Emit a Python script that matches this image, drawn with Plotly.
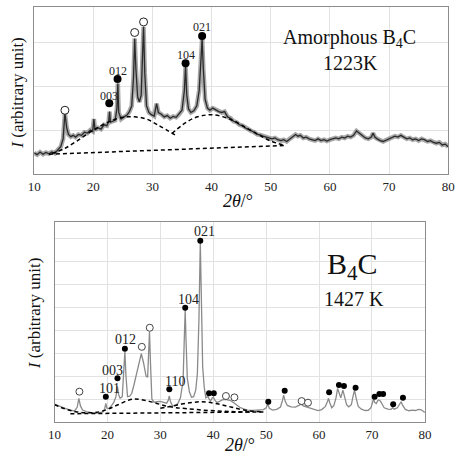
import plotly.graph_objects as go

# ---------------- Top panel: amorphous B4C, 1223 K ----------------
two_theta_a = [10.0, 10.5, 11.0, 11.5, 12.0, 12.5, 13.0, 13.5, 14.0, 14.5, 14.9, 15.2, 15.5, 15.8,
               16.2, 16.6, 17.0, 17.5, 18.0, 18.5, 19.0, 19.5, 19.9, 20.1, 20.3, 20.8, 21.3, 21.8,
               22.3, 22.6, 22.75, 22.9, 23.3, 23.7, 24.0, 24.15, 24.3, 24.7, 25.2, 25.7, 26.1, 26.5,
               26.8, 27.0, 27.2, 27.5, 27.8, 28.1, 28.35, 28.5, 28.7, 29.0, 29.4, 29.8, 30.3, 30.7,
               31.0, 31.5, 32.0, 32.5, 33.0, 33.5, 34.0, 34.5, 35.0, 35.4, 35.6, 35.8, 36.1, 36.5,
               37.0, 37.5, 37.9, 38.2, 38.4, 38.6, 38.9, 39.3, 39.7, 40.2, 40.7, 41.2, 41.7, 42.2,
               42.7, 43.2, 43.7, 44.2, 44.7, 45.2, 45.7, 46.2, 46.7, 47.2, 47.7, 48.2, 48.7, 49.2,
               49.7, 50.2, 50.7, 51.2, 51.7, 52.2, 52.7, 53.2, 53.7, 54.2, 54.6, 55.0, 55.5, 56.0,
               56.5, 57.0, 57.5, 58.0, 58.5, 59.0, 59.5, 60.0, 60.5, 61.0, 61.5, 62.0, 62.5, 63.0,
               63.5, 64.0, 64.5, 65.0, 65.5, 66.0, 66.5, 67.0, 67.3, 67.6, 68.0, 68.5, 69.0, 69.5,
               70.0, 70.5, 71.0, 71.5, 72.0, 72.5, 73.0, 73.5, 74.0, 74.5, 75.0, 75.5, 76.0, 76.5,
               77.0, 77.5, 78.0, 78.5, 79.0, 79.5, 80.0]
intensity_a = [0.48, 0.44, 0.50, 0.45, 0.49, 0.46, 0.50, 0.47, 0.55, 0.62, 0.80, 1.39, 1.05, 0.90,
               0.85, 0.88, 0.84, 0.90, 0.88, 0.95, 0.93, 1.00, 0.97, 1.25, 1.00, 1.05, 1.02, 1.12,
               1.10, 1.20, 1.42, 1.18, 1.20, 1.22, 1.50, 2.06, 1.40, 1.25, 1.30, 1.34, 1.42, 1.55,
               2.20, 3.08, 2.40, 1.75, 1.64, 1.80, 2.80, 3.35, 2.30, 1.55, 1.40, 1.35, 1.32, 1.60,
               1.40, 1.36, 1.30, 1.33, 1.27, 1.31, 1.29, 1.36, 1.45, 1.90, 2.46, 1.80, 1.48, 1.40,
               1.44, 1.55, 1.90, 2.60, 3.08, 2.40, 1.70, 1.50, 1.45, 1.50, 1.46, 1.42, 1.40, 1.42,
               1.30, 1.27, 1.20, 1.18, 1.12, 1.10, 1.05, 1.02, 0.98, 0.95, 0.90, 0.89, 0.86, 0.84,
               0.82, 0.80, 0.82, 0.78, 0.76, 0.78, 0.74, 0.80, 0.84, 0.90, 0.86, 0.88, 0.82, 0.84,
               0.80, 0.78, 0.76, 0.80, 0.76, 0.78, 0.75, 0.78, 0.80, 0.82, 0.80, 0.84, 0.82, 0.86,
               0.84, 0.88, 0.98, 0.92, 0.88, 0.82, 0.80, 0.84, 0.93, 0.84, 0.80, 0.76, 0.74, 0.77,
               0.80, 0.82, 0.86, 0.84, 0.88, 0.84, 0.80, 0.82, 0.78, 0.80, 0.76, 0.80, 0.78, 0.74,
               0.76, 0.72, 0.70, 0.72, 0.66, 0.68, 0.62]

base_a_x = [12.5, 52.5]
base_a_y = [0.45, 0.65]
hump1_a_x = [13.0, 15.0, 17.0, 20.0, 23.0, 25.0, 27.0, 29.0, 31.0, 33.8]
hump1_a_y = [0.47, 0.57, 0.73, 1.00, 1.21, 1.29, 1.30, 1.25, 1.11, 0.89]
hump2_a_x = [33.3, 35.0, 37.0, 39.0, 40.0, 42.0, 44.0, 46.0, 48.0, 50.0, 52.5]
hump2_a_y = [0.92, 1.11, 1.27, 1.34, 1.35, 1.30, 1.19, 1.04, 0.89, 0.75, 0.65]

b4c_a_x = [22.7, 24.1, 35.6, 38.4]
b4c_a_y = [1.61, 2.16, 2.52, 3.14]
other_a_x = [15.2, 27.0, 28.5]
other_a_y = [1.45, 3.22, 3.46]
hkl_a = ["003", "012", "104", "021"]
hkl_a_x = [22.6, 24.1, 35.6, 38.4]
hkl_a_y = [1.78, 2.35, 2.70, 3.35]

# ---------------- Bottom panel: B4C, 1427 K ----------------
two_theta_b = [10.0, 11.0, 12.0, 13.0, 13.8, 14.3, 14.6, 14.9, 15.3, 16.0, 17.0, 17.5, 18.5, 19.2,
               19.5, 19.7, 19.9, 20.3, 20.8, 21.2, 21.6, 21.9, 22.1, 22.4, 22.8, 23.1, 23.3, 23.5,
               23.8, 24.2, 24.6, 25.0, 25.5, 26.0, 26.4, 26.8, 27.3, 27.6, 27.8, 27.95, 28.15, 28.4,
               28.8, 29.3, 29.8, 30.3, 30.8, 31.2, 31.5, 31.7, 31.9, 32.3, 32.8, 33.3, 33.8, 34.3,
               34.55, 34.7, 34.85, 35.1, 35.5, 35.9, 36.3, 36.7, 37.0, 37.3, 37.55, 37.75, 38.0, 38.3,
               38.6, 38.9, 39.0, 39.2, 39.5, 39.8, 40.0, 40.3, 40.7, 41.2, 41.7, 42.3, 42.8, 43.3,
               43.8, 44.3, 45.0, 45.7, 46.5, 47.5, 48.5, 49.5, 50.0, 50.3, 50.6, 51.2, 52.0, 52.7,
               53.1, 53.3, 53.6, 54.0, 54.7, 55.5, 56.2, 56.6, 57.0, 57.6, 58.2, 59.0, 59.8, 60.5,
               61.2, 61.6, 61.8, 62.0, 62.4, 62.8, 63.2, 63.5, 63.8, 64.1, 64.5, 64.8, 65.2, 65.6,
               66.1, 66.4, 66.7, 67.0, 67.4, 68.0, 68.7, 69.3, 69.8, 70.1, 70.3, 70.5, 70.8, 71.1,
               71.3, 71.6, 71.9, 72.3, 73.0, 73.6, 73.9, 74.2, 74.8, 75.2, 75.5, 75.8, 76.3, 77.0,
               77.6, 78.2, 78.8, 79.3, 79.8, 80.0]
intensity_b = [0.78, 0.68, 0.59, 0.52, 0.48, 0.65, 1.03, 0.70, 0.52, 0.45, 0.40, 0.38, 0.40, 0.45,
               0.60, 0.81, 0.60, 0.59, 0.72, 0.85, 1.10, 1.54, 1.20, 1.03, 1.10, 2.20, 3.06, 2.00,
               1.10, 1.12, 1.25, 1.60, 2.12, 2.70, 2.97, 2.60, 2.00, 1.95, 3.00, 3.93, 2.50, 1.00,
               0.86, 0.88, 0.90, 0.88, 0.84, 0.82, 0.95, 1.13, 0.90, 0.70, 0.72, 0.80, 1.05, 1.80,
               3.80, 4.87, 3.60, 1.90, 1.30, 1.08, 1.10, 1.40, 2.12, 4.50, 7.84, 5.00, 2.40, 1.50,
               1.05, 1.10, 1.12, 1.00, 0.92, 1.05, 1.08, 0.95, 0.85, 0.90, 0.96, 0.98, 0.97, 0.93,
               0.85, 0.75, 0.64, 0.57, 0.52, 0.51, 0.52, 0.54, 0.62, 0.78, 0.60, 0.52, 0.55, 0.65,
               0.95, 1.17, 0.90, 0.72, 0.66, 0.65, 0.72, 0.78, 0.70, 0.66, 0.60, 0.54, 0.50, 0.54,
               0.68, 0.90, 1.03, 0.85, 0.62, 0.72, 1.05, 1.46, 1.20, 1.05, 1.39, 1.10, 0.75, 0.66,
               0.75, 1.10, 1.39, 1.05, 0.68, 0.56, 0.50, 0.51, 0.62, 0.85, 1.03, 0.85, 0.80, 0.94,
               0.96, 0.91, 0.80, 0.62, 0.56, 0.55, 0.62, 0.56, 0.62, 0.78, 0.88, 0.72, 0.55, 0.49,
               0.52, 0.50, 0.55, 0.53, 0.45, 0.41]

base_b_x = [13.0, 50.0]
base_b_y = [0.36, 0.44]
hump1_b_x = [10.0, 12.0, 14.0, 16.0, 18.0, 20.0, 22.0, 24.0, 25.2, 27.0, 29.0, 31.0, 33.0, 35.0, 38.0, 41.0, 44.0, 47.0]
hump1_b_y = [0.75, 0.57, 0.45, 0.40, 0.42, 0.55, 0.75, 0.95, 1.00, 0.95, 0.83, 0.70, 0.62, 0.58, 0.52, 0.48, 0.45, 0.43]
hump2_b_x = [30.0, 32.0, 34.0, 36.0, 37.5, 39.0, 41.0, 43.0, 45.0, 47.0, 49.0]
hump2_b_y = [0.60, 0.68, 0.78, 0.85, 0.88, 0.86, 0.78, 0.67, 0.56, 0.48, 0.45]

b4c_b_x = [19.7, 21.9, 23.3, 31.7, 34.7, 37.55, 39.2, 40.1, 50.4, 53.5, 61.9, 63.75, 64.7, 66.9,
           70.5, 71.4, 72.1, 74.0, 75.85]
b4c_b_y = [1.10, 1.90, 3.19, 1.43, 4.97, 7.88, 1.25, 1.25, 0.88, 1.36, 1.29, 1.61, 1.57, 1.49,
           1.10, 1.22, 1.22, 0.77, 1.06]
other_b_x = [14.7, 26.5, 28.0, 42.4, 44.0, 56.7, 57.9]
other_b_y = [1.32, 3.27, 4.10, 1.13, 1.07, 0.91, 0.84]
hkl_b = ["101", "003", "012", "110", "104", "021"]
hkl_b_x = [20.3, 20.9, 23.4, 32.8, 35.35, 38.4]
hkl_b_y = [1.46, 2.26, 3.59, 1.78, 5.33, 8.28]

SERIF = "Liberation Serif"
W, H = 461, 456

fig = go.Figure()

# top panel
fig.add_trace(go.Scatter(x=two_theta_a, y=intensity_a, mode="lines",
                         line=dict(color="rgba(110,110,110,0.6)", width=4.5), xaxis="x", yaxis="y"))
fig.add_trace(go.Scatter(x=two_theta_a, y=intensity_a, mode="lines",
                         line=dict(color="#2a2a2a", width=1.3), xaxis="x", yaxis="y"))
for xs, ys in [(base_a_x, base_a_y), (hump1_a_x, hump1_a_y), (hump2_a_x, hump2_a_y)]:
    fig.add_trace(go.Scatter(x=xs, y=ys, mode="lines", line=dict(color="black", width=1.5, dash="4px,3px", shape="spline"),
                             xaxis="x", yaxis="y"))
fig.add_trace(go.Scatter(x=b4c_a_x, y=b4c_a_y, mode="markers",
                         marker=dict(color="black", size=8), xaxis="x", yaxis="y"))
fig.add_trace(go.Scatter(x=other_a_x, y=other_a_y, mode="markers",
                         marker=dict(color="white", size=8, line=dict(color="#222", width=1)), xaxis="x", yaxis="y"))

# bottom panel
fig.add_trace(go.Scatter(x=two_theta_b, y=intensity_b, mode="lines",
                         line=dict(color="#8a8a8a", width=1.3), xaxis="x2", yaxis="y2"))
for xs, ys in [(base_b_x, base_b_y), (hump1_b_x, hump1_b_y), (hump2_b_x, hump2_b_y)]:
    fig.add_trace(go.Scatter(x=xs, y=ys, mode="lines", line=dict(color="black", width=1.5, dash="4px,3px", shape="spline"),
                             xaxis="x2", yaxis="y2"))
fig.add_trace(go.Scatter(x=b4c_b_x, y=b4c_b_y, mode="markers",
                         marker=dict(color="black", size=6), xaxis="x2", yaxis="y2"))
fig.add_trace(go.Scatter(x=other_b_x, y=other_b_y, mode="markers",
                         marker=dict(color="white", size=7, line=dict(color="#444", width=1)), xaxis="x2", yaxis="y2"))

annotations = []
for t, x, y in zip(hkl_a, hkl_a_x, hkl_a_y):
    annotations.append(dict(text=t, x=x, y=y, xref="x", yref="y", showarrow=False,
                            xanchor="center", yanchor="middle",
                            font=dict(family=SERIF, size=12, color="#222")))
for t, x, y in zip(hkl_b, hkl_b_x, hkl_b_y):
    annotations.append(dict(text=t, x=x, y=y, xref="x2", yref="y2", showarrow=False,
                            xanchor="center", yanchor="middle",
                            font=dict(family=SERIF, size=14, color="#222")))

def px(x):
    return x / W

def py(y):
    return 1 - y / H

def label(text, x, y, size, angle=0):
    return dict(text=text, x=px(x), y=py(y), xref="paper", yref="paper", showarrow=False,
                xanchor="center", yanchor="middle", textangle=angle,
                font=dict(family=SERIF, size=size, color="#111"))

annotations += [
    label("Amorphous B<sub>4</sub>C", 353, 38, 20),
    label("1223K", 354, 63, 20),
    label("B<sub>4</sub>C", 356, 266, 30),
    label("1427 K", 358, 299, 20),
    label("<i>I</i> (arbitrary unit)", 10, 93, 17, -90),
    label("<i>I</i> (arbitrary unit)", 28, 314, 17, -90),
    label("<i>2θ</i>/°", 238, 201, 18),
    label("<i>2θ</i>/°", 240, 445, 18),
]

axis_common = dict(showgrid=True, gridcolor="#e2e2e2", gridwidth=1, showline=True, linecolor="#8c8c8c",
                   linewidth=1, mirror=True, ticks="", zeroline=False)

fig.update_layout(
    width=W, height=H, margin=dict(l=0, r=0, t=0, b=0),
    paper_bgcolor="white", plot_bgcolor="white", showlegend=False,
    font=dict(family=SERIF, color="#222"),
    xaxis=dict(domain=[px(28), px(455)], range=[10, 80], dtick=10, anchor="y",
               tickfont=dict(family=SERIF, size=13, color="#222"), **axis_common),
    yaxis=dict(domain=[py(174), py(7)], range=[0, 3.8], dtick=1, anchor="x",
               showticklabels=False, **axis_common),
    xaxis2=dict(domain=[px(49), px(431)], range=[10, 80], dtick=10, anchor="y2",
                tickfont=dict(family=SERIF, size=13, color="#222"), **axis_common),
    yaxis2=dict(domain=[py(422), py(222)], range=[0, 8.7], dtick=1, anchor="x2",
                showticklabels=False, **axis_common),
    annotations=annotations,
)

fig.write_html("out.html")
